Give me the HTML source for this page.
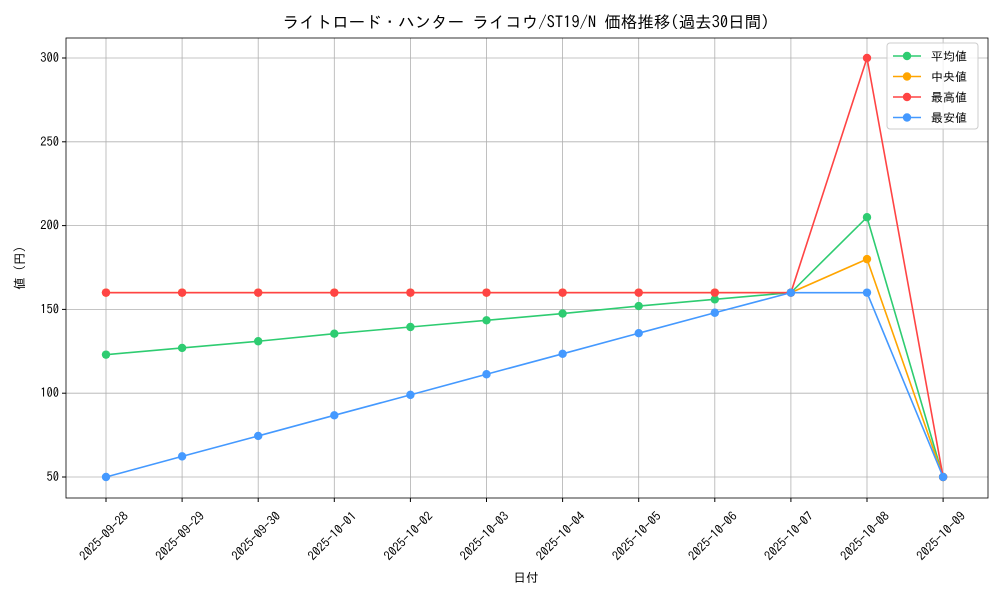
<!DOCTYPE html>
<html><head><meta charset="utf-8"><style>body{margin:0;background:#fff}svg{display:block}text{font-family:"IPAGothic","Liberation Sans","Noto Sans CJK JP",sans-serif;fill:#000}</style></head>
<body>
<svg id="s" width="1000" height="600" xmlns="http://www.w3.org/2000/svg"></svg>
<script>
var s=document.getElementById('s'),h='';
var L=66,R=988,T=38,B=498;
function X(i){return 106+i*76.1}
function Y(v){return 477-(v-50)*1.676}
var dates=['2025-09-28','2025-09-29','2025-09-30','2025-10-01','2025-10-02','2025-10-03','2025-10-04','2025-10-05','2025-10-06','2025-10-07','2025-10-08','2025-10-09'];
for(var i=0;i<12;i++){var x=X(i);h+='<line x1="'+x+'" y1="'+T+'" x2="'+x+'" y2="'+B+'" stroke="#b0b0b0" stroke-width="0.8"/>';
h+='<line x1="'+x+'" y1="'+B+'" x2="'+x+'" y2="'+(B+4)+'" stroke="#000"/>';
h+='<text font-size="12.5" text-anchor="middle" transform="translate('+(x+1)+','+(B+41)+') rotate(-45)">'+dates[i]+'</text>';}
for(var v=50;v<=300;v+=50){var y=Y(v);h+='<line x1="'+L+'" y1="'+y+'" x2="'+R+'" y2="'+y+'" stroke="#b0b0b0" stroke-width="0.8"/>';
h+='<line x1="'+(L-4)+'" y1="'+y+'" x2="'+L+'" y2="'+y+'" stroke="#000"/>';
h+='<text x="'+(L-7)+'" y="'+(y+4)+'" font-size="12.5" text-anchor="end">'+v+'</text>';}
h+='<rect x="'+L+'" y="'+T+'" width="'+(R-L)+'" height="'+(B-T)+'" fill="none" stroke="#000" stroke-width="0.8"/>';
var S=[['#2ecc71',[123,127,131,135.5,139.5,143.5,147.5,152,156,160,205,50]],
['#ffa500',[160,160,160,160,160,160,160,160,160,160,180,50]],
['#ff4444',[160,160,160,160,160,160,160,160,160,160,300,50]],
['#4499ff',[50,62.3,74.5,86.8,99,111.3,123.5,135.8,148,160,160,50]]];
S.forEach(function(sr){var p=sr[1].map(function(v,i){return X(i)+','+Y(v)}).join(' ');
h+='<polyline points="'+p+'" fill="none" stroke="'+sr[0]+'" stroke-width="1.6"/>';
sr[1].forEach(function(v,i){h+='<circle cx="'+X(i)+'" cy="'+Y(v)+'" r="4.2" fill="'+sr[0]+'"/>'});});
h+='<rect x="887" y="43" width="91" height="86" rx="3" fill="#fff" fill-opacity="0.8" stroke="#ccc"/>';
var names=['平均値','中央値','最高値','最安値'];
for(var k=0;k<4;k++){var y=56+k*20.5;h+='<line x1="893" y1="'+y+'" x2="921" y2="'+y+'" stroke="'+S[k][0]+'" stroke-width="1.6"/><circle cx="907" cy="'+y+'" r="4.2" fill="'+S[k][0]+'"/><text x="931" y="'+(y+4.5)+'" font-size="12">'+names[k]+'</text>';}
h+='<text x="526" y="28" font-size="16.5" text-anchor="middle">ライトロード・ハンター ライコウ/ST19/N 価格推移(過去30日間)</text>';
h+='<text x="526" y="582" font-size="12.5" text-anchor="middle">日付</text>';
h+='<text font-size="12.5" text-anchor="middle" transform="translate(24,268) rotate(-90)">値 (円)</text>';
s.innerHTML=h;
</script>
</body></html>
